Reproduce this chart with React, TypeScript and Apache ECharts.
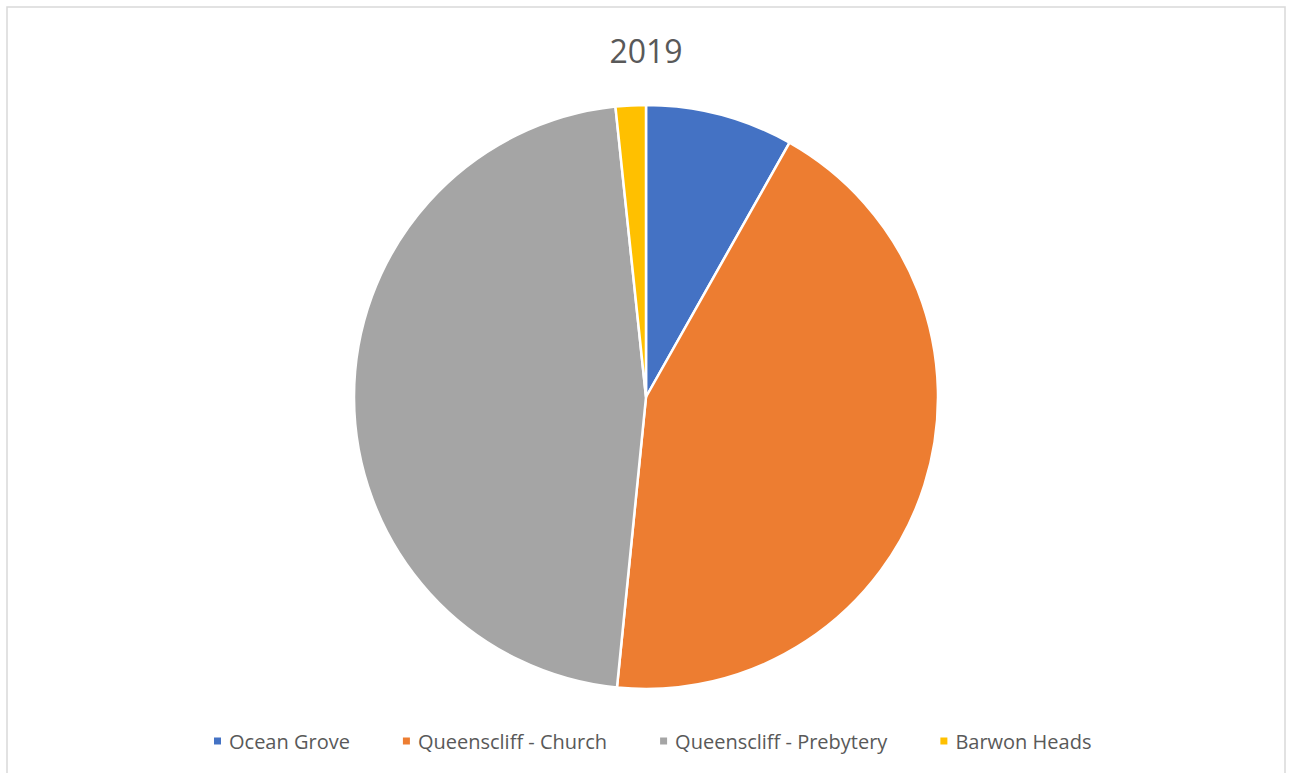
import React, { useEffect, useRef } from "react";
import * as echarts from "echarts";

const categories = ["Ocean Grove", "Queenscliff - Church", "Queenscliff - Prebytery", "Barwon Heads"];
const values = [49, 260, 280, 10];
const colors = ["#4472C4", "#ED7D31", "#A5A5A5", "#FFC000"];
const title = "2019";

export default function App() {
  const ref = useRef<HTMLDivElement>(null);
  useEffect(() => {
    const chart = echarts.init(ref.current!, undefined, { renderer: "svg" });
    chart.setOption({
      animation: false,
      backgroundColor: "#ffffff",
      color: colors,
      title: {
        text: title,
        left: "center",
        top: 29,
        textStyle: { fontFamily: "Open Sans", fontSize: 32, fontWeight: "normal", color: "#595959" },
      },
      legend: {
        data: categories,
        left: 207,
        top: 726,
        icon: "rect",
        itemWidth: 9,
        itemHeight: 9,
        itemGap: 51,
        textStyle: { fontFamily: "Open Sans", fontSize: 20, color: "#595959", padding: [0, 0, 0, 2] },
      },
      graphic: [
        {
          type: "rect",
          shape: { x: 7, y: 7, width: 1278, height: 800 },
          style: { fill: "none", stroke: "#d9d9d9", lineWidth: 1.5 },
          silent: true,
        },
      ],
      series: [
        {
          type: "pie",
          center: [646, 397],
          radius: 292,
          startAngle: 90,
          clockwise: true,
          label: { show: false },
          labelLine: { show: false },
          itemStyle: { borderColor: "#ffffff", borderWidth: 2.5 },
          emphasis: { disabled: true },
          data: categories.map((c, i) => ({ name: c, value: values[i] })),
        },
      ],
    });
    return () => chart.dispose();
  }, []);
  return <div ref={ref} style={{ position: "fixed", left: 0, top: 0, width: 1292, height: 773 }} />;
}
